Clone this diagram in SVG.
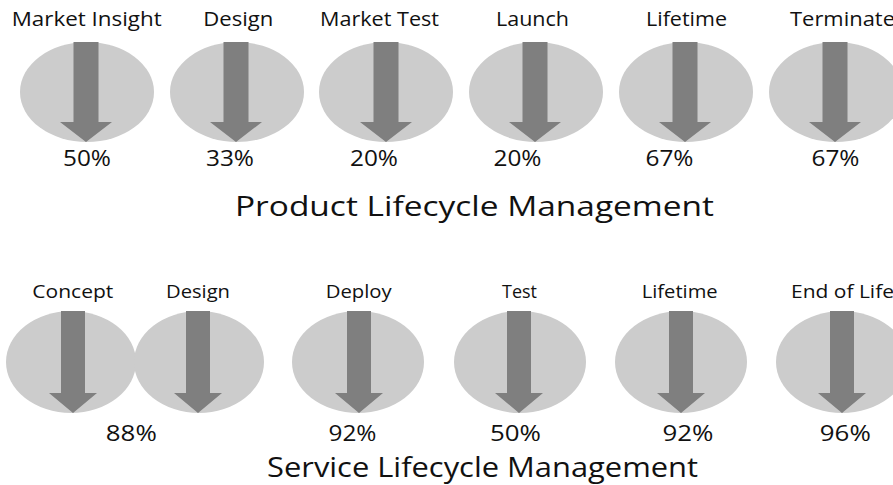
<svg xmlns="http://www.w3.org/2000/svg" xmlns:xlink="http://www.w3.org/1999/xlink" width="893" height="485" viewBox="0 0 893 485">
<style>
.e{fill:#cccccc}
.a{fill:#7f7f7f}
text{font-family:"Open Sans","Noto Sans","DejaVu Sans",sans-serif;fill:#111111;text-anchor:middle}
.l{font-size:20px}
.m{font-size:19px}
.p{font-size:21px}
.t{font-size:27px}
</style>
<defs>
<path id="arT" class="a" d="M-12.5,42 H12.5 V122 H26 L0,142 L-26,122 H-12.5 Z"/>
<path id="arB" class="a" d="M-12,311 H12 V393 H24 L0,413 L-24,393 H-12 Z"/>
</defs>
<rect width="893" height="485" fill="#ffffff"/>
<g id="product">
<g id="p1"><ellipse class="e" cx="87" cy="92" rx="67" ry="50"/><use xlink:href="#arT" x="86"/><text class="l" x="86.7" y="26" textLength="150" lengthAdjust="spacingAndGlyphs">Market Insight</text><text class="p" x="87" y="166" textLength="48" lengthAdjust="spacingAndGlyphs">50%</text></g>
<g id="p2"><ellipse class="e" cx="237" cy="92" rx="67" ry="50"/><use xlink:href="#arT" x="236"/><text class="l" x="238.3" y="26" textLength="70" lengthAdjust="spacingAndGlyphs">Design</text><text class="p" x="230" y="166" textLength="48" lengthAdjust="spacingAndGlyphs">33%</text></g>
<g id="p3"><ellipse class="e" cx="386" cy="92" rx="67" ry="50"/><use xlink:href="#arT" x="386"/><text class="l" x="379.5" y="26" textLength="119" lengthAdjust="spacingAndGlyphs">Market Test</text><text class="p" x="374" y="166" textLength="48" lengthAdjust="spacingAndGlyphs">20%</text></g>
<g id="p4"><ellipse class="e" cx="536" cy="92" rx="67" ry="50"/><use xlink:href="#arT" x="535"/><text class="l" x="532.5" y="26" textLength="73" lengthAdjust="spacingAndGlyphs">Launch</text><text class="p" x="517.5" y="166" textLength="48" lengthAdjust="spacingAndGlyphs">20%</text></g>
<g id="p5"><ellipse class="e" cx="686" cy="92" rx="67" ry="50"/><use xlink:href="#arT" x="685"/><text class="l" x="686.5" y="26" textLength="81" lengthAdjust="spacingAndGlyphs">Lifetime</text><text class="p" x="669.5" y="166" textLength="48" lengthAdjust="spacingAndGlyphs">67%</text></g>
<g id="p6"><ellipse class="e" cx="836" cy="92" rx="67" ry="50"/><use xlink:href="#arT" x="835"/><text class="l" x="842.5" y="26" textLength="105" lengthAdjust="spacingAndGlyphs">Terminate</text><text class="p" x="835.5" y="166" textLength="48" lengthAdjust="spacingAndGlyphs">67%</text></g>
<text id="ptitle" class="t" x="474.5" y="216" textLength="479" lengthAdjust="spacingAndGlyphs">Product Lifecycle Management</text>
</g>
<g id="service">
<g id="s1"><ellipse class="e" cx="71" cy="362" rx="65" ry="51"/><use xlink:href="#arB" x="73"/><text class="m" x="72.8" y="298" textLength="81" lengthAdjust="spacingAndGlyphs">Concept</text></g>
<g id="s2"><ellipse class="e" cx="199" cy="362" rx="65" ry="51"/><use xlink:href="#arB" x="198"/><text class="m" x="198" y="298" textLength="64" lengthAdjust="spacingAndGlyphs">Design</text></g>
<text class="p" x="131.3" y="441" textLength="51" lengthAdjust="spacingAndGlyphs">88%</text>
<g id="s3"><ellipse class="e" cx="358" cy="362" rx="66" ry="51"/><use xlink:href="#arB" x="359"/><text class="m" x="358.7" y="298" textLength="66" lengthAdjust="spacingAndGlyphs">Deploy</text><text class="p" x="352.5" y="441" textLength="48" lengthAdjust="spacingAndGlyphs">92%</text></g>
<g id="s4"><ellipse class="e" cx="520" cy="362" rx="66" ry="51"/><use xlink:href="#arB" x="519"/><text class="m" x="519.5" y="298" textLength="35" lengthAdjust="spacingAndGlyphs">Test</text><text class="p" x="515.5" y="441" textLength="51" lengthAdjust="spacingAndGlyphs">50%</text></g>
<g id="s5"><ellipse class="e" cx="681" cy="362" rx="66" ry="51"/><use xlink:href="#arB" x="681"/><text class="m" x="679.7" y="298" textLength="76" lengthAdjust="spacingAndGlyphs">Lifetime</text><text class="p" x="688" y="441" textLength="51" lengthAdjust="spacingAndGlyphs">92%</text></g>
<g id="s6"><ellipse class="e" cx="842" cy="362" rx="66" ry="51"/><use xlink:href="#arB" x="842"/><text class="m" x="842.5" y="298" textLength="103" lengthAdjust="spacingAndGlyphs">End of Life</text><text class="p" x="845.3" y="441" textLength="51" lengthAdjust="spacingAndGlyphs">96%</text></g>
<text id="stitle" class="t" x="482.5" y="477" textLength="431" lengthAdjust="spacingAndGlyphs">Service Lifecycle Management</text>
</g>
<g id="connectors"></g>
</svg>
